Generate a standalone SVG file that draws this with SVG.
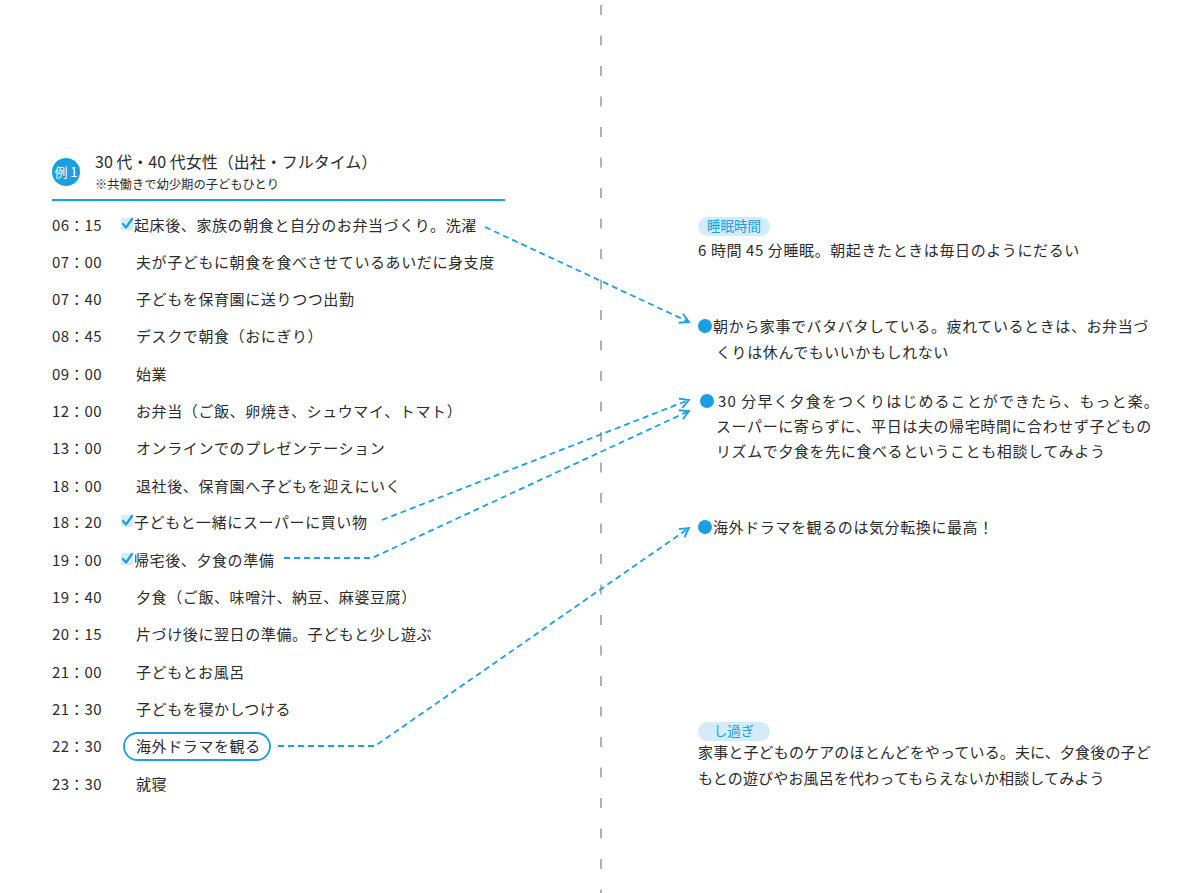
<svg xmlns="http://www.w3.org/2000/svg" width="1200" height="893" viewBox="0 0 1200 893">
<style>
text{font-family:"Noto Sans CJK JP","Noto Sans",sans-serif;fill:#2b2b2b}
.t{font-size:15px;letter-spacing:0.6px}
.t2{font-size:15px;letter-spacing:0.15px}
.tm{font-size:15px;letter-spacing:0.3px}
.b{fill:#1a9fe3}
.pill{fill:#d4ecfa}
.pt{font-size:13.5px;fill:#1a9fe3}
.con{fill:none;stroke:#1a9fe3;stroke-width:1.8;stroke-dasharray:6 4}
.chk{fill:#d4ecfa}
.ck{fill:none;stroke:#1a9fe3;stroke-width:2.2;stroke-linecap:round;stroke-linejoin:round}
</style>
<defs>
<marker id="ah" viewBox="0 0 12 12" refX="10" refY="6" markerWidth="12" markerHeight="12" markerUnits="userSpaceOnUse" orient="auto">
<path d="M1,1 L10,6 L1,11" fill="none" stroke="#1a9fe3" stroke-width="1.8"/>
</marker>
<g id="check"><rect x="0" y="0" width="12" height="12" rx="1.5" class="chk"/><path d="M2,6 L5,9.5 L11,1" class="ck"/></g>
</defs>
<rect width="1200" height="893" fill="#fff"/>
<line x1="601" y1="5" x2="601" y2="893" stroke="#888" stroke-width="1.3" stroke-dasharray="10 20.5"/>
<g id="header">
<circle cx="66" cy="172" r="14" class="b"/>
<text x="66" y="177" font-size="13" text-anchor="middle" style="fill:#fff">例 1</text>
<text x="95" y="168" font-size="16">30 代・40 代女性（出社・フルタイム）</text>
<text x="95" y="189" font-size="12.3">※共働きで幼少期の子どもひとり</text>
<rect x="52" y="199" width="453" height="2.2" class="b"/>
</g>
<g id="schedule">
<g id="r0615"><text x="52" y="231" class="tm">06：15</text><use href="#check" x="121" y="218"/><text x="134" y="231" class="t">起床後、家族の朝食と自分のお弁当づくり。洗濯</text></g>
<g id="r0700"><text x="52" y="268" class="tm">07：00</text><text x="136" y="268" class="t">夫が子どもに朝食を食べさせているあいだに身支度</text></g>
<g id="r0740"><text x="52" y="305" class="tm">07：40</text><text x="136" y="305" class="t">子どもを保育園に送りつつ出勤</text></g>
<g id="r0845"><text x="52" y="342" class="tm">08：45</text><text x="136" y="342" class="t">デスクで朝食（おにぎり）</text></g>
<g id="r0900"><text x="52" y="380" class="tm">09：00</text><text x="136" y="380" class="t">始業</text></g>
<g id="r1200"><text x="52" y="417" class="tm">12：00</text><text x="136" y="417" class="t">お弁当（ご飯、卵焼き、シュウマイ、トマト）</text></g>
<g id="r1300"><text x="52" y="454" class="tm">13：00</text><text x="136" y="454" class="t">オンラインでのプレゼンテーション</text></g>
<g id="r1800"><text x="52" y="492" class="tm">18：00</text><text x="136" y="492" class="t">退社後、保育園へ子どもを迎えにいく</text></g>
<g id="r1820"><text x="52" y="528" class="tm">18：20</text><use href="#check" x="121" y="515"/><text x="134" y="528" class="t">子どもと一緒にスーパーに買い物</text></g>
<g id="r1900"><text x="52" y="566" class="tm">19：00</text><use href="#check" x="121" y="553"/><text x="134" y="566" class="t">帰宅後、夕食の準備</text></g>
<g id="r1940"><text x="52" y="603" class="tm">19：40</text><text x="136" y="603" class="t">夕食（ご飯、味噌汁、納豆、麻婆豆腐）</text></g>
<g id="r2015"><text x="52" y="640" class="tm">20：15</text><text x="136" y="640" class="t">片づけ後に翌日の準備。子どもと少し遊ぶ</text></g>
<g id="r2100"><text x="52" y="678" class="tm">21：00</text><text x="136" y="678" class="t">子どもとお風呂</text></g>
<g id="r2130"><text x="52" y="715" class="tm">21：30</text><text x="136" y="715" class="t">子どもを寝かしつける</text></g>
<g id="r2230"><text x="52" y="752" class="tm">22：30</text><rect x="124" y="733" width="146" height="27" rx="13.5" fill="none" stroke="#1a9fe3" stroke-width="1.8"/><text x="136" y="752" class="t">海外ドラマを観る</text></g>
<g id="r2330"><text x="52" y="790" class="tm">23：30</text><text x="136" y="790" class="t">就寝</text></g>
</g>
<g id="connectors">
<path d="M485,227 L689,322" class="con" marker-end="url(#ah)"/>
<path d="M382,520 L689,400" class="con" marker-end="url(#ah)"/>
<path d="M284,558 L372,558 L689,411" class="con" marker-end="url(#ah)"/>
<path d="M278,746 L375,746 L689,528" class="con" marker-end="url(#ah)"/>
</g>
<g id="sleep">
<rect x="698" y="217" width="72" height="19" rx="9.5" class="pill"/>
<text x="734" y="231" text-anchor="middle" class="pt">睡眠時間</text>
<text x="698" y="256" class="t">6 時間 45 分睡眠。朝起きたときは毎日のようにだるい</text>
</g>
<g id="note1">
<circle cx="705" cy="326" r="7" class="b"/>
<text x="713" y="332" class="t">朝から家事でバタバタしている。疲れているときは、お弁当づ</text>
<text x="716" y="358" class="t">くりは休んでもいいかもしれない</text>
</g>
<g id="note2">
<circle cx="707" cy="401" r="7" class="b"/>
<text x="718" y="407" class="t" style="letter-spacing:1.1px">30 分早く夕食をつくりはじめることができたら、もっと楽。</text>
<text x="716" y="432" class="t">スーパーに寄らずに、平日は夫の帰宅時間に合わせず子どもの</text>
<text x="716" y="457" class="t">リズムで夕食を先に食べるということも相談してみよう</text>
</g>
<g id="note3">
<circle cx="705" cy="527" r="7" class="b"/>
<text x="713" y="533" class="t">海外ドラマを観るのは気分転換に最高！</text>
</g>
<g id="overdo">
<rect x="698" y="722" width="72" height="19" rx="9.5" class="pill"/>
<text x="734" y="736" text-anchor="middle" class="pt">し過ぎ</text>
<text x="698" y="758" class="t2">家事と子どものケアのほとんどをやっている。夫に、夕食後の子ど</text>
<text x="698" y="784" class="t2">もとの遊びやお風呂を代わってもらえないか相談してみよう</text>
</g>
</svg>
